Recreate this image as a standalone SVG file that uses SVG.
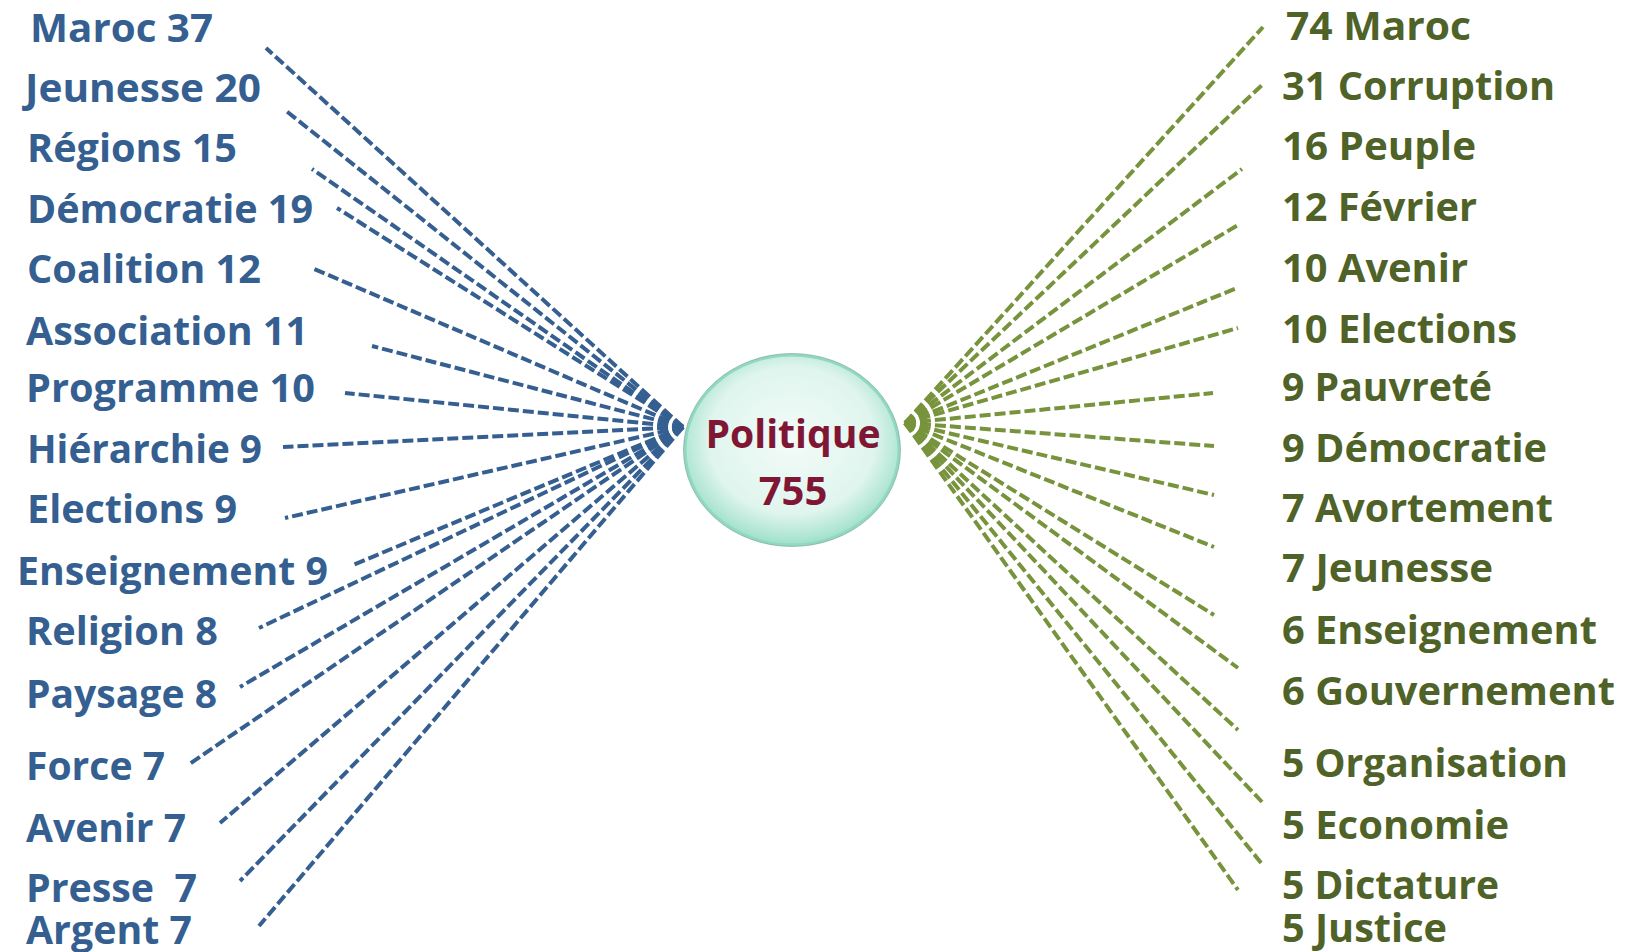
<svg xmlns="http://www.w3.org/2000/svg" width="1626" height="952" viewBox="0 0 1626 952">
<style>
.lb{font-family:"Open Sans","Noto Sans",sans-serif;font-weight:700;font-size:40px;fill:#365F91}
.lg{font-family:"Open Sans","Noto Sans",sans-serif;font-weight:700;font-size:40px;fill:#4F6228}
.lc{font-family:"Open Sans","Noto Sans",sans-serif;font-weight:700;font-size:40px;fill:#7F1734;text-anchor:middle}
.cb{stroke:#365F91;stroke-width:4;stroke-dasharray:11 4;fill:none}
.cg{stroke:#77933C;stroke-width:4;stroke-dasharray:11 4;fill:none}
</style>
<defs>
<radialGradient id="gc" cx="50%" cy="45%" r="55%">
<stop offset="0" stop-color="#F3FBF8"/>
<stop offset="0.7" stop-color="#E0F5EE"/>
<stop offset="1" stop-color="#9FE0CB"/>
</radialGradient>
</defs>
<rect width="1626" height="952" fill="#FFFFFF"/>
<g id="connectors">
<g id="left-lines">
<line class="cb" x1="683" y1="427" x2="266" y2="48"/>
<line class="cb" x1="683" y1="427" x2="285" y2="110"/>
<line class="cb" x1="683" y1="427" x2="312" y2="169"/>
<line class="cb" x1="683" y1="427" x2="337" y2="208"/>
<line class="cb" x1="683" y1="427" x2="312" y2="268"/>
<line class="cb" x1="683" y1="427" x2="372" y2="346"/>
<line class="cb" x1="683" y1="427" x2="345" y2="393"/>
<line class="cb" x1="683" y1="427" x2="283" y2="447"/>
<line class="cb" x1="683" y1="427" x2="285" y2="518"/>
<line class="cb" x1="683" y1="427" x2="353" y2="565"/>
<line class="cb" x1="683" y1="427" x2="259" y2="628"/>
<line class="cb" x1="683" y1="427" x2="240" y2="687"/>
<line class="cb" x1="683" y1="427" x2="188" y2="765"/>
<line class="cb" x1="683" y1="427" x2="220" y2="823"/>
<line class="cb" x1="683" y1="427" x2="240" y2="881"/>
<line class="cb" x1="683" y1="427" x2="259" y2="926"/>
</g>
<g id="right-lines">
<line class="cg" x1="905" y1="423" x2="1263" y2="27"/>
<line class="cg" x1="905" y1="423" x2="1262" y2="85"/>
<line class="cg" x1="905" y1="423" x2="1242" y2="169"/>
<line class="cg" x1="905" y1="423" x2="1238" y2="225"/>
<line class="cg" x1="905" y1="423" x2="1237" y2="288"/>
<line class="cg" x1="905" y1="423" x2="1238" y2="328"/>
<line class="cg" x1="905" y1="423" x2="1213" y2="393"/>
<line class="cg" x1="905" y1="423" x2="1214" y2="446"/>
<line class="cg" x1="905" y1="423" x2="1214" y2="495"/>
<line class="cg" x1="905" y1="423" x2="1214" y2="547"/>
<line class="cg" x1="905" y1="423" x2="1214" y2="615"/>
<line class="cg" x1="905" y1="423" x2="1238" y2="668"/>
<line class="cg" x1="905" y1="423" x2="1238" y2="730"/>
<line class="cg" x1="905" y1="423" x2="1262" y2="802"/>
<line class="cg" x1="905" y1="423" x2="1262" y2="864"/>
<line class="cg" x1="905" y1="423" x2="1238" y2="890"/>
</g>
</g>
<g id="center">
<ellipse cx="792" cy="450" rx="107" ry="95" fill="url(#gc)" stroke="#8FD9C2" stroke-width="3"/>
<ellipse cx="792" cy="450" rx="108.5" ry="96.5" fill="none" stroke="#6E8C82" stroke-width="0.8" opacity="0.6"/>
<text class="lc" x="793" y="448" textLength="175" lengthAdjust="spacingAndGlyphs">Politique</text>
<text class="lc" x="793" y="505">755</text>
</g>
<g id="left-labels">
<g id="l1"><text class="lb" x="30" y="42" textLength="183" lengthAdjust="spacingAndGlyphs">Maroc 37</text></g>
<g id="l2"><text class="lb" x="25" y="102" textLength="236" lengthAdjust="spacingAndGlyphs">Jeunesse 20</text></g>
<g id="l3"><text class="lb" x="27" y="162" textLength="210" lengthAdjust="spacingAndGlyphs">Régions 15</text></g>
<g id="l4"><text class="lb" x="27" y="223" textLength="286" lengthAdjust="spacingAndGlyphs">Démocratie 19</text></g>
<g id="l5"><text class="lb" x="27" y="283" textLength="234" lengthAdjust="spacingAndGlyphs">Coalition 12</text></g>
<g id="l6"><text class="lb" x="26" y="345" textLength="282" lengthAdjust="spacingAndGlyphs">Association 11</text></g>
<g id="l7"><text class="lb" x="26" y="402" textLength="289" lengthAdjust="spacingAndGlyphs">Programme 10</text></g>
<g id="l8"><text class="lb" x="27" y="463" textLength="235" lengthAdjust="spacingAndGlyphs">Hiérarchie 9</text></g>
<g id="l9"><text class="lb" x="27" y="523" textLength="210" lengthAdjust="spacingAndGlyphs">Elections 9</text></g>
<g id="l10"><text class="lb" x="17" y="585" textLength="311" lengthAdjust="spacingAndGlyphs">Enseignement 9</text></g>
<g id="l11"><text class="lb" x="26" y="645" textLength="192" lengthAdjust="spacingAndGlyphs">Religion 8</text></g>
<g id="l12"><text class="lb" x="26" y="708" textLength="191" lengthAdjust="spacingAndGlyphs">Paysage 8</text></g>
<g id="l13"><text class="lb" x="26" y="780" textLength="139" lengthAdjust="spacingAndGlyphs">Force 7</text></g>
<g id="l14"><text class="lb" x="26" y="842" textLength="160" lengthAdjust="spacingAndGlyphs">Avenir 7</text></g>
<g id="l15"><text class="lb" x="26" y="902" textLength="171" lengthAdjust="spacingAndGlyphs" xml:space="preserve">Presse  7</text></g>
<g id="l16"><text class="lb" x="26" y="944" textLength="166" lengthAdjust="spacingAndGlyphs">Argent 7</text></g>
</g>
<g id="right-labels">
<g id="r1"><text class="lg" x="1286" y="40" textLength="185" lengthAdjust="spacingAndGlyphs">74 Maroc</text></g>
<g id="r2"><text class="lg" x="1282" y="100" textLength="273" lengthAdjust="spacingAndGlyphs">31 Corruption</text></g>
<g id="r3"><text class="lg" x="1282" y="160" textLength="194" lengthAdjust="spacingAndGlyphs">16 Peuple</text></g>
<g id="r4"><text class="lg" x="1282" y="221" textLength="195" lengthAdjust="spacingAndGlyphs">12 Février</text></g>
<g id="r5"><text class="lg" x="1282" y="282" textLength="186" lengthAdjust="spacingAndGlyphs">10 Avenir</text></g>
<g id="r6"><text class="lg" x="1282" y="343" textLength="235" lengthAdjust="spacingAndGlyphs">10 Elections</text></g>
<g id="r7"><text class="lg" x="1282" y="401" textLength="210" lengthAdjust="spacingAndGlyphs">9 Pauvreté</text></g>
<g id="r8"><text class="lg" x="1282" y="462" textLength="265" lengthAdjust="spacingAndGlyphs">9 Démocratie</text></g>
<g id="r9"><text class="lg" x="1282" y="522" textLength="271" lengthAdjust="spacingAndGlyphs">7 Avortement</text></g>
<g id="r10"><text class="lg" x="1282" y="582" textLength="211" lengthAdjust="spacingAndGlyphs">7 Jeunesse</text></g>
<g id="r11"><text class="lg" x="1282" y="644" textLength="315" lengthAdjust="spacingAndGlyphs">6 Enseignement</text></g>
<g id="r12"><text class="lg" x="1282" y="705" textLength="333" lengthAdjust="spacingAndGlyphs">6 Gouvernement</text></g>
<g id="r13"><text class="lg" x="1282" y="777" textLength="286" lengthAdjust="spacingAndGlyphs">5 Organisation</text></g>
<g id="r14"><text class="lg" x="1282" y="839" textLength="227" lengthAdjust="spacingAndGlyphs">5 Economie</text></g>
<g id="r15"><text class="lg" x="1282" y="899" textLength="217" lengthAdjust="spacingAndGlyphs">5 Dictature</text></g>
<g id="r16"><text class="lg" x="1282" y="942" textLength="165" lengthAdjust="spacingAndGlyphs">5 Justice</text></g>
</g>
</svg>
